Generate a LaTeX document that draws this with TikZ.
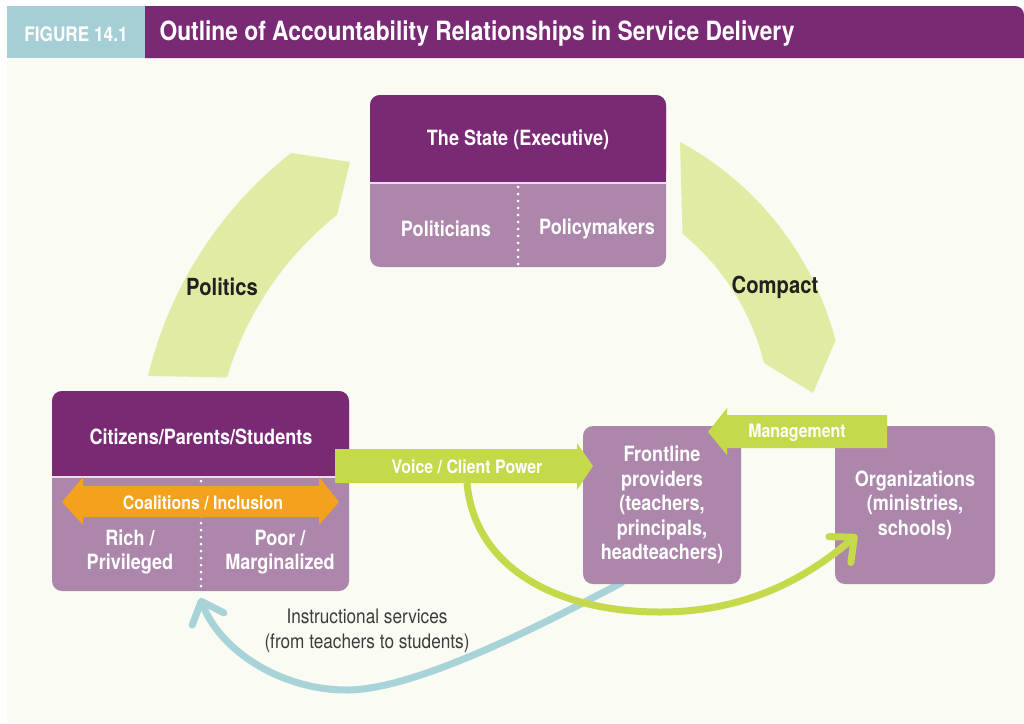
\documentclass[tikz,border=0pt]{standalone}
\usepackage{fontspec}
\setmainfont[FakeStretch=0.86]{TeX Gyre Heros}
\usepackage{tikz}
\usetikzlibrary{
  arrows.meta,
  positioning,
  calc,
}

\definecolor{plum}{HTML}{7A2A75}
\definecolor{lilac}{HTML}{AD86AB}
\definecolor{lime}{HTML}{C6D94B}
\definecolor{palelime}{HTML}{E1EBA4}
\definecolor{amber}{HTML}{F4A11D}
\definecolor{skyteal}{HTML}{A8D4D9}
\definecolor{headteal}{HTML}{A6CFD5}
\definecolor{cream}{HTML}{FAFBF3}
\definecolor{seprule}{HTML}{E9DFE8}
\definecolor{inkgray}{HTML}{3C3C3C}
\definecolor{inkdark}{HTML}{231F20}

\begin{document}
\begin{tikzpicture}[
  x=1pt, y=-1pt,
  boxlabel/.style={text=white, font=\bfseries\fontsize{21}{24.5}\selectfont, align=center, yshift=-2pt},
  arrowlabel/.style={text=white, font=\bfseries\fontsize{18.5}{20}\selectfont, yshift=-1pt},
  bandlabel/.style={text=inkdark, font=\bfseries\fontsize{23.5}{26}\selectfont},
  lilacbox/.style={fill=lilac, rounded corners=10pt, inner sep=0pt},
  dotrule/.style={white, line width=3pt, line cap=round, dash pattern=on 0pt off 7pt},
  flowline/.style={line width=7pt, -{Straight Barb[round, length=19pt, width=34pt]}},
]

\useasboundingbox (0,0) rectangle (1024,723);
\fill[white] (0,0) rectangle (1024,723);
\fill[cream] (7,58) rectangle (1024,723);

% heading
\fill[headteal] (7,6) rectangle (145,58);
\fill[plum] (145,58) -- (145,6) [rounded corners=9pt] -- (1024,6) [sharp corners] -- (1024,58) -- cycle;
\node[text=white, font=\bfseries\fontsize{20}{22}\selectfont] (fignum) at (76,34) {FIGURE 14.1};
\node[text=white, font=\bfseries\fontsize{26.5}{28}\selectfont, anchor=west] (title) at (156,34)
  {Outline of Accountability Relationships in Service Delivery};

% politics and compact bands
\fill[palelime] (148,376) arc[start angle=193.5, end angle=231.9, radius=403]
  -- (350,162) -- (337,215) arc[start angle=231.5, end angle=196.7, radius=328] -- cycle;
\fill[palelime] (680,142) arc[start angle=-61.6, end angle=-14.6, radius=316]
  -- (813,393) -- (764,363) arc[start angle=-13.7, end angle=-50.8, radius=240] -- cycle;
\node[bandlabel] (politics) at (222,287) {Politics};
\node[bandlabel] (compact) at (775,287) {Compact};

% the state
\fill[lilac, rounded corners=10pt] (370,95) rectangle (666,267);
\fill[plum, rounded corners=10pt] (370,95) rectangle (666,182);
\fill[plum] (370,160) rectangle (666,182);
\fill[seprule] (370,182) rectangle (666,184);
\draw[dotrule] (518,187) -- (518,266);
\node[boxlabel] (state) at (518,138) {The State (Executive)};
\node[boxlabel] (politicians) at (446,227) {Politicians};
\node[boxlabel] (policymakers) at (597,227) {Policymakers};

% citizens
\fill[lilac, rounded corners=10pt] (52,391) rectangle (349,591);
\fill[plum, rounded corners=10pt] (52,391) rectangle (349,476);
\fill[plum] (52,455) rectangle (349,476);
\fill[seprule] (52,476) rectangle (349,478);
\draw[dotrule] (201,481) -- (201,590);
\node[boxlabel] (citizens) at (201,435) {Citizens/Parents/Students};
\node[boxlabel] (rich) at (130,550) {Rich /\\Privileged};
\node[boxlabel] (poor) at (280,550) {Poor /\\Marginalized};
\coordinate (citizensfoot) at (200,598);

% coalitions
\fill[amber] (62,502) -- (83,477) -- (83,486) -- (319,486) -- (319,477) -- (339,502)
  -- (319,525) -- (319,517) -- (83,517) -- (83,525) -- cycle;
\node[arrowlabel] (coalitions) at (203,502) {Coalitions / Inclusion};

% instructional services
\draw[skyteal, flowline] (623,582) .. controls (560,615) and (420,690) .. (347,690)
  .. controls (280,690) and (220,650) .. (citizensfoot);
\node[text=inkgray, font=\fontsize{20}{25}\selectfont, align=center] (instr) at (367,631)
  {Instructional services\\(from teachers to students)};

% providers and organizations
\node[lilacbox, minimum width=158pt, minimum height=158pt, boxlabel] (front) at (662,503)
  {Frontline\\providers\\(teachers,\\principals,\\headteachers)};
\node[lilacbox, minimum width=160pt, minimum height=158pt, boxlabel] (orgs) at (915,503)
  {Organizations\\(ministries,\\schools)};

% client power loop
\coordinate (voicefoot) at (467,483);
\coordinate (orgsin) at (857,535);
\draw[lime, flowline] (voicefoot) .. controls (475,570) and (560,612) .. (660,612)
  .. controls (750,612) and (810,575) .. (orgsin);

% voice and management
\fill[lime] (335,449) -- (577,449) -- (577,443) -- (593,466) -- (577,490) -- (577,483)
  -- (335,483) -- cycle;
\node[arrowlabel] (voice) at (467,466) {Voice / Client Power};
\fill[lime] (887,415) -- (727,415) -- (727,408) -- (708,432) -- (727,455) -- (727,448)
  -- (887,448) -- cycle;
\node[arrowlabel] (management) at (797,432) {Management};

\end{tikzpicture}
\end{document}
